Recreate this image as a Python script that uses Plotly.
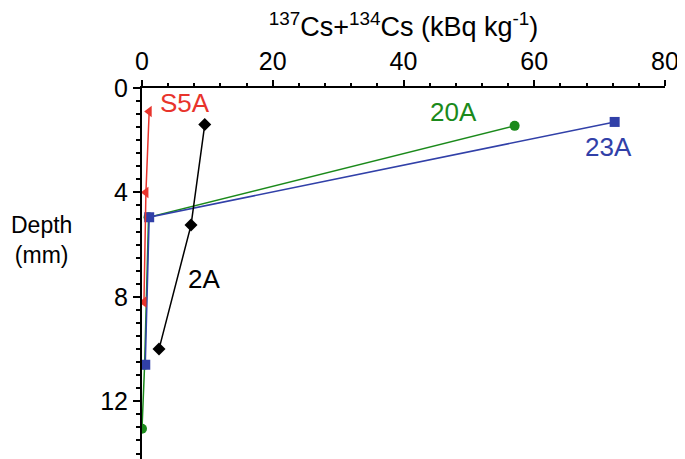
import plotly.graph_objects as go

# Data (x: 137Cs+134Cs kBq/kg, y: depth mm)
s5a_x = [1.1, 0.6, 0.3]
s5a_y = [0.9, 4.0, 8.2]
a2_x = [9.6, 7.5, 2.6]
a2_y = [1.4, 5.25, 10.0]
a20_x = [57.0, 1.0, 0.4, 0.0]
a20_y = [1.45, 4.95, 10.6, 13.05]
a23_x = [72.3, 1.1, 0.5]
a23_y = [1.3, 4.95, 10.6]

x_ticks = [0, 20, 40, 60, 80]
y_ticks = [0, 4, 8, 12]

RED = "#e8342c"
GREEN = "#1b8a1b"
BLUE = "#3140a8"
BLACK = "#000000"
FONT = "Liberation Sans"

fig = go.Figure()
fig.add_trace(go.Scatter(x=a20_x, y=a20_y, mode="lines+markers",
                         line=dict(color=GREEN, width=1.5),
                         marker=dict(symbol="circle", size=10, color=GREEN)))
fig.add_trace(go.Scatter(x=a23_x, y=a23_y, mode="lines+markers",
                         line=dict(color=BLUE, width=1.5),
                         marker=dict(symbol="square", size=10, color=BLUE)))
fig.add_trace(go.Scatter(x=s5a_x, y=s5a_y, mode="lines+markers",
                         line=dict(color=RED, width=1.5),
                         marker=dict(symbol="triangle-left", size=10, color=RED)))
fig.add_trace(go.Scatter(x=a2_x, y=a2_y, mode="lines+markers",
                         line=dict(color=BLACK, width=1.5),
                         marker=dict(symbol="diamond", size=10, color=BLACK)))

labels = [
    ("S5A", 2.4, 0.56, RED, "left"),
    ("2A", 9.5, 7.3, BLACK, "center"),
    ("20A", 47.7, 0.92, GREEN, "center"),
    ("23A", 71.3, 2.26, BLUE, "center"),
]
for t, x, y, c, al in labels:
    fig.add_annotation(x=x, y=y, xref="x", yref="y", text=t, showarrow=False,
                       font=dict(size=26, color=c, family=FONT), xanchor=al,
                       yanchor="middle")

fig.add_annotation(x=-0.193, y=0.59, xref="paper", yref="paper", text="Depth<br>(mm)",
                   showarrow=False, font=dict(size=23, color="black", family=FONT),
                   xanchor="center", yanchor="middle", align="center")

fig.update_layout(
    width=677, height=451,
    margin=dict(l=134, r=20, t=80, b=0),
    plot_bgcolor="white", paper_bgcolor="white",
    showlegend=False,
    font=dict(family=FONT, color="black"),
    xaxis=dict(
        side="top", range=[0, 80], tickvals=x_ticks,
        showgrid=False, zeroline=False, showline=True, linecolor="black", linewidth=2,
        ticks="outside", ticklen=6, tickwidth=1.5, tickcolor="black",
        tickfont=dict(size=25, family=FONT),
        minor=dict(dtick=4, ticks="outside", ticklen=3, tickcolor="black"),
        title=dict(text="<sup>137</sup>Cs+<sup>134</sup>Cs (kBq kg<sup>-1</sup>)",
                   font=dict(size=27, family=FONT), standoff=8),
    ),
    yaxis=dict(
        range=[14.21, 0], tickvals=y_ticks,
        showgrid=False, zeroline=False, showline=True, linecolor="black", linewidth=2,
        ticks="outside", ticklen=7, tickwidth=1.5, tickcolor="black",
        tickfont=dict(size=25, family=FONT),
        minor=dict(dtick=0.5, ticks="outside", ticklen=4, tickcolor="black"),
    ),
)

fig.write_html("out.html")
